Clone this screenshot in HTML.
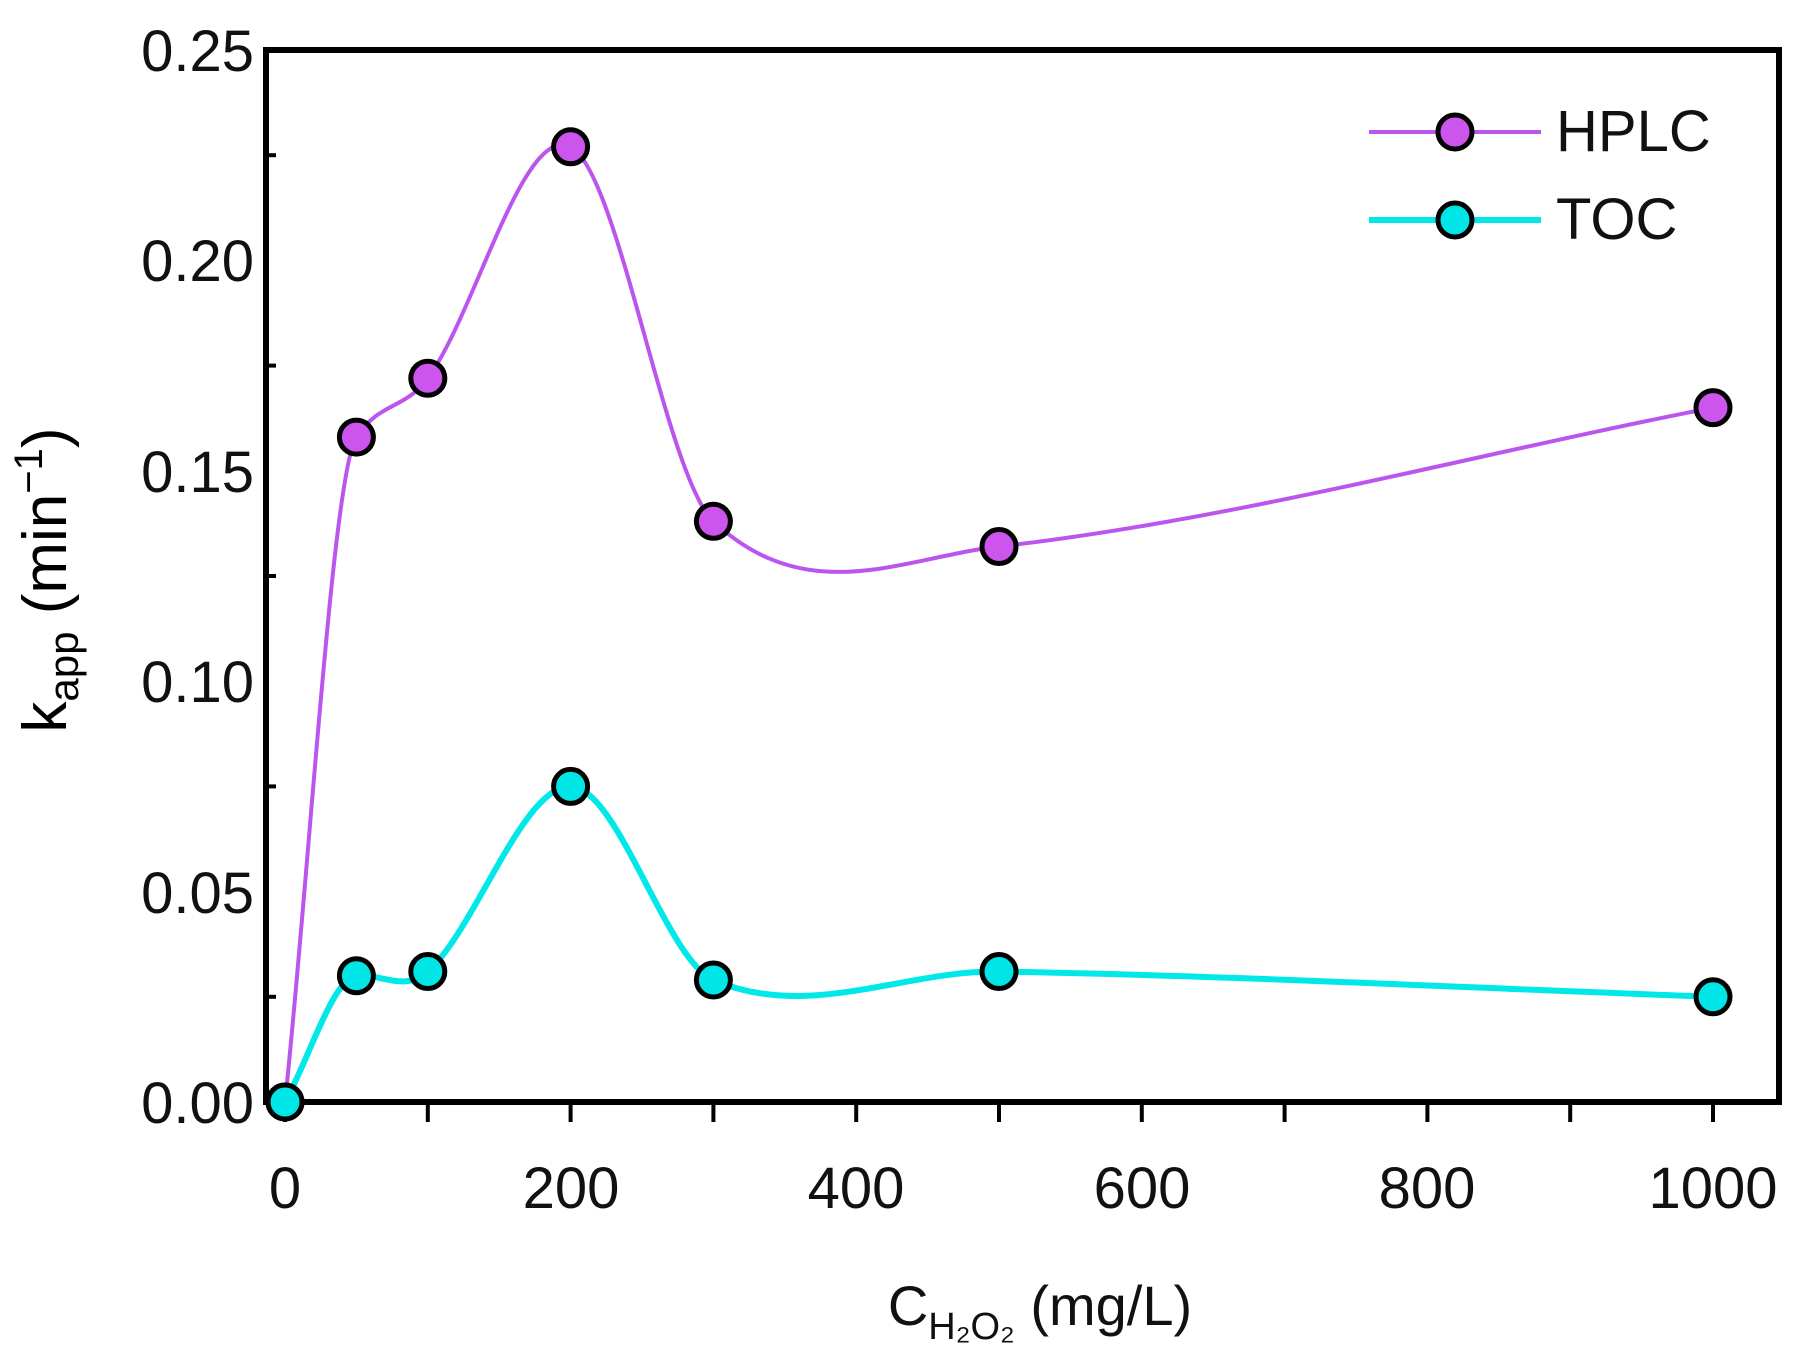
<!DOCTYPE html>
<html><head><meta charset="utf-8"><style>
html,body{margin:0;padding:0;background:#fff;}
svg text{font-family:"Liberation Sans",sans-serif;}
</style></head><body>
<svg id="s" width="1817" height="1361" xmlns="http://www.w3.org/2000/svg">
<g id="ticks" stroke="#000" stroke-width="4"></g>
<path id="hp" fill="none" stroke="#bb55ee" stroke-width="4"/>
<path id="tp" fill="none" stroke="#00e8e8" stroke-width="6"/>
<rect x="266" y="50" width="1513" height="1052" fill="none" stroke="#000" stroke-width="6"/>
<g id="mk"></g>
<g font-size="58" fill="#111" text-anchor="end">
<text x="254" y="1123">0.00</text>
<text x="254" y="913">0.05</text>
<text x="254" y="702">0.10</text>
<text x="254" y="492">0.15</text>
<text x="254" y="281">0.20</text>
<text x="254" y="71">0.25</text>
</g>
<g font-size="58" fill="#111" text-anchor="middle">
<text x="285" y="1208">0</text>
<text x="571" y="1208">200</text>
<text x="856" y="1208">400</text>
<text x="1142" y="1208">600</text>
<text x="1427" y="1208">800</text>
<text x="1713" y="1208">1000</text>
</g>
<text x="1040" y="1325" font-size="56" text-anchor="middle" fill="#111">C<tspan font-size="38" dy="14">H₂O₂</tspan><tspan dy="-14"> (mg/L)</tspan></text>
<text transform="translate(66,580) rotate(-90)" font-size="62" text-anchor="middle" fill="#000">k<tspan font-size="42" dy="12">app</tspan><tspan dy="-12"> (min</tspan><tspan font-size="40" dy="-24">−1</tspan><tspan dy="24">)</tspan></text>
<line x1="1369" y1="132" x2="1541" y2="132" stroke="#bb55ee" stroke-width="4"/>
<line x1="1369" y1="220" x2="1541" y2="220" stroke="#00e8e8" stroke-width="6"/>
<circle cx="1455" cy="132" r="17" fill="#cc55ee" stroke="#000" stroke-width="5"/>
<circle cx="1455" cy="220" r="17" fill="#00e5e5" stroke="#000" stroke-width="5"/>
<text x="1556" y="151" font-size="58" fill="#111">HPLC</text>
<text x="1556" y="239" font-size="58" fill="#111">TOC</text>
</svg>
<script>
var X=function(v){return 285+v*1.428},Y=function(v){return 1102-v*4208};
var H=[[0,0],[50,.158],[100,.172],[200,.227],[300,.138],[500,.132],[1000,.165]];
var T=[[0,0],[50,.030],[100,.031],[200,.075],[300,.029],[500,.031],[1000,.025]];
function path(d){var n=d.length,m=[];
for(var i=0;i<n;i++){var a=d[i-1]||d[i],b=d[i+1]||d[i];m.push((b[1]-a[1])/(b[0]-a[0]));}
var s1=(d[1][1]-d[0][1])/(d[1][0]-d[0][0]),s2=(d[2][1]-d[1][1])/(d[2][0]-d[1][0]);
m[1]=2/(1/s1+1/s2);
var s="M"+X(d[0][0])+","+Y(d[0][1]);
for(var i=0;i<n-1;i++){var h=(d[i+1][0]-d[i][0])/3;
s+=" C"+X(d[i][0]+h)+","+Y(d[i][1]+m[i]*h)+" "+X(d[i+1][0]-h)+","+Y(d[i+1][1]-m[i+1]*h)+" "+X(d[i+1][0])+","+Y(d[i+1][1]);}
return s;}
document.getElementById("hp").setAttribute("d",path(H));
document.getElementById("tp").setAttribute("d",path(T));
var mk="";H.forEach(function(a){mk+='<circle cx="'+X(a[0])+'" cy="'+Y(a[1])+'" r="17" fill="#cc55ee" stroke="#000" stroke-width="5"/>'});
T.forEach(function(a){mk+='<circle cx="'+X(a[0])+'" cy="'+Y(a[1])+'" r="17" fill="#00e5e5" stroke="#000" stroke-width="5"/>'});
document.getElementById("mk").innerHTML=mk;
var t="";for(var i=0;i<=10;i++){var x=X(i*100);t+='<line x1="'+x+'" y1="1102" x2="'+x+'" y2="1122"/>';}
for(var j=1;j<=9;j+=2){var y=Y(j*0.025);t+='<line x1="266" y1="'+y+'" x2="276" y2="'+y+'"/>';}
document.getElementById("ticks").innerHTML=t;
</script>
</body></html>
